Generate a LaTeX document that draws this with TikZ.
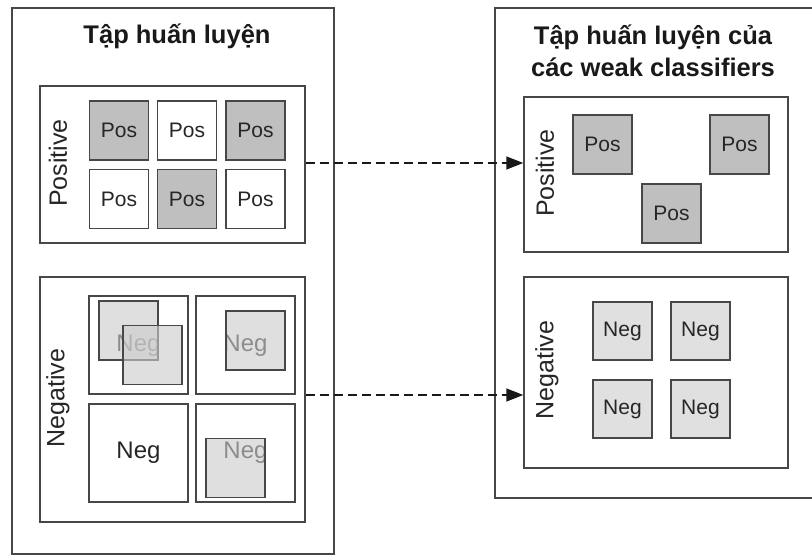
\documentclass[tikz,border=0pt]{standalone}
\usepackage{fontspec}
\setmainfont{Liberation Sans}
\usetikzlibrary{arrows.meta}
\begin{document}
\begin{tikzpicture}[x=1pt,y=-1pt,
  frame/.style={draw=black!72,line width=1.4pt,inner sep=0pt},
  panel/.style={frame,fill=white},
  posg/.style={frame,fill=black!25,minimum width=59pt,minimum height=59pt,font=\fontsize{21}{21}\selectfont,text=black!85},
  posw/.style={posg,fill=white},
  negr/.style={frame,fill=black!12,minimum width=59pt,minimum height=58pt,font=\fontsize{21}{21}\selectfont,text=black!85},
  cell/.style={frame,fill=none,minimum width=99pt,minimum height=98pt},
  negtxt/.style={font=\fontsize{24}{24}\selectfont,text=black!85},
  shadebox/.style={frame,fill=black!20,fill opacity=0.62,minimum width=59pt,minimum height=59pt},
  side/.style={rotate=90,font=\fontsize{25}{25}\selectfont,text=black!85},
  title/.style={font=\bfseries\fontsize{25.5}{32}\selectfont,text=black!90,align=center},
  flow/.style={line width=1.4pt,black!90,dash pattern=on 9pt off 5pt,-{Triangle[length=17pt,width=13pt]}}]
\useasboundingbox (0,0) rectangle (812,556);
% left outer box
\node[frame,minimum width=322pt,minimum height=546pt] (L) at (173,281) {};
\node[title] (Lt) at (177,36) {Tập huấn luyện};
% left positive panel
\node[panel,minimum width=265pt,minimum height=157pt] (LP) at (172.5,164.5) {};
\node[side] (LPl) at (58,163) {Positive};
\node[posg] (p11) at (119,130.5) {Pos};
\node[posw] (p12) at (187,130.5) {Pos};
\node[posg] (p13) at (255.5,130.5) {Pos};
\node[posw] (p21) at (119,199) {Pos};
\node[posg] (p22) at (187,199) {Pos};
\node[posw] (p23) at (255.5,199) {Pos};
% left negative panel
\node[panel,minimum width=265pt,minimum height=245pt] (LN) at (172.5,399.5) {};
\node[side] (LNl) at (58,398) {Negative};
\node[cell] (c1) at (138.5,345) {};
\node[cell] (c2) at (245.5,345) {};
\node[cell] (c3) at (138.5,453) {};
\node[cell] (c4) at (245.5,453) {};
\node[negtxt] (n1) at (138.5,346) {Neg};
\node[negtxt] (n2) at (245.5,346) {Neg};
\node[negtxt] (n3) at (138.5,453) {Neg};
\node[negtxt] (n4) at (245.5,453) {Neg};
\node[shadebox] (s1) at (128.5,330.5) {};
\node[shadebox] (s2) at (152.5,355) {};
\node[shadebox] (s3) at (255.5,340.5) {};
\node[shadebox] (s4) at (235.5,468) {};
% right outer box (runs off the right edge)
\coordinate (Rtr) at (830,8);
\coordinate (Rbr) at (830,498);
\coordinate (Rtl) at (495,8);
\coordinate (Rbl) at (495,498);
\draw[black!72,line width=1.4pt] (Rtr) -- (Rtl) -- (Rbl) -- (Rbr);
\node[title] (Rt) at (653,51) {Tập huấn luyện của\\các weak classifiers};
% right positive panel
\node[panel,minimum width=264pt,minimum height=155pt] (RP) at (656,174.5) {};
\node[side] (RPl) at (545,173) {Positive};
\node[posg] (q1) at (602.5,144.5) {Pos};
\node[posg] (q2) at (739.5,144.5) {Pos};
\node[posg] (q3) at (671.5,213.5) {Pos};
% right negative panel
\node[panel,minimum width=264pt,minimum height=191pt] (RN) at (656,372.5) {};
\node[side] (RNl) at (547,370) {Negative};
\node[negr] (m1) at (622.5,331) {Neg};
\node[negr] (m2) at (700.5,331) {Neg};
\node[negr] (m3) at (622.5,409) {Neg};
\node[negr] (m4) at (700.5,409) {Neg};
% arrows
\draw[flow] ([yshift=1.5pt]LP.east) -- ([yshift=1.5pt]LP.east -| RP.west);
\draw[flow] ([yshift=4.5pt]LN.east) -- ([yshift=4.5pt]LN.east -| RN.west);
\end{tikzpicture}
\end{document}
